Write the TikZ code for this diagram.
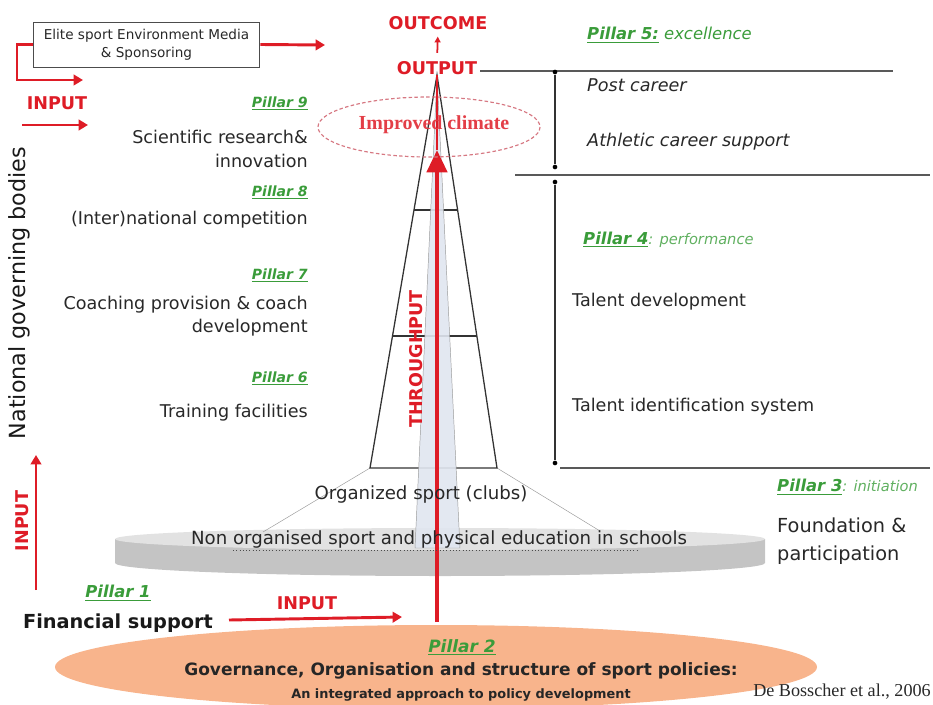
\documentclass[tikz,border=0pt]{standalone}
\usepackage{fontspec}
\setmainfont{DejaVu Sans}
\newfontfamily\serifface{Liberation Serif}
\usetikzlibrary{arrows.meta,calc}

\definecolor{inred}{RGB}{222,28,38}
\definecolor{pilgreen}{RGB}{58,156,58}
\definecolor{lightgreen}{RGB}{96,176,96}
\definecolor{govorange}{RGB}{248,180,140}
\definecolor{disctop}{RGB}{226,226,226}
\definecolor{discside}{RGB}{196,196,196}
\definecolor{colblue}{RGB}{224,230,240}
\definecolor{txtgrey}{RGB}{40,40,40}
\definecolor{climred}{RGB}{214,120,130}

\newcommand{\pillar}[1]{\underline{\textbf{\textit{Pillar #1}}}}
\newcommand{\fs}[2]{\fontsize{#1}{#2}\selectfont}

\begin{document}
\begin{tikzpicture}[x=0.03cm, y=-0.03cm,
  every node/.style={inner sep=0pt, text=txtgrey},
  lbl/.style={font=\fs{15}{20}, align=right, anchor=east},
  rlbl/.style={font=\fs{15}{18}, anchor=west},
  pil/.style={font=\fs{12}{14}, text=pilgreen},
  caps/.style={font=\fs{15}{17}\bfseries, text=inred},
  redarr/.style={draw=inred, line width=2.5pt, -{Triangle[length=8pt,width=9pt]}},
  divider/.style={draw=black!65, line width=1pt},
  dot/.style={circle, fill=black, minimum size=4pt}]
\useasboundingbox (0,0) rectangle (933,704);

\fill[govorange] (436,667) ellipse [x radius=381, y radius=42];
\fill[discside] (115,539) -- (115,563) arc[start angle=180, end angle=0, x radius=325, y radius=13] -- (765,539) -- cycle;
\fill[disctop] (440,539) ellipse [x radius=325, y radius=11];

\coordinate (apex) at (437,75);
\coordinate (bl) at (370,468);
\coordinate (br) at (497,468);
\coordinate (discl) at (263,532);
\coordinate (discr) at (600,531);
\draw[black!40] (bl) -- (discl);
\draw[black!40] (br) -- (discr);
\draw[black!80, line width=1.1pt] (apex) -- (bl) -- (br) -- cycle;
\draw[black!80, line width=1.1pt] ($(apex)!0.3435!(bl)$) -- ($(apex)!0.3435!(br)$);
\draw[black!80, line width=1.1pt] ($(apex)!0.664!(bl)$) -- ($(apex)!0.664!(br)$);
\filldraw[fill=colblue, draw=black!40, fill opacity=0.9] (apex) -- (415,548) -- (460,548) -- cycle;

\coordinate (thrbot) at (437,622);
\coordinate (thrtip) at (437,150);
\draw[inred, line width=4pt, -{Triangle[length=19pt,width=17pt]}] (thrbot) -- (thrtip);
\draw[inred, line width=1.5pt] (thrtip) -- (apex);
\node[caps, rotate=90] (thr) at (416,359) {THROUGHPUT};

\draw[climred, line width=1pt, dash pattern=on 3pt off 2pt] (429,127) ellipse [x radius=111, y radius=30];
\node[font=\serifface\fs{17}{19}\bfseries, text=inred!85] (climate) at (434,125) {Improved climate};

\node[caps] (outcome) at (438,23) {OUTCOME};
\node[caps] (output) at (437,68) {OUTPUT};
\draw[inred, line width=1.5pt, shorten <=0.25cm, shorten >=0.2cm, -{Triangle[length=5pt,width=5pt]}] (output.north) -- (outcome.south);

\node[draw=black!70, line width=0.8pt, minimum width=6.8cm, minimum height=1.35cm, align=center, font=\fs{11.6}{15.5}] (elite) at (146.5,44.5) {Elite sport Environment Media\\\& Sponsoring};
\coordinate (eliteout) at (325,45);
\coordinate (bracket) at (83,80);
\draw[redarr] (elite.east) -- (eliteout);
\draw[redarr] (elite.west) -| (17,80) -- (bracket);
\node[caps] (intop) at (57,103) {INPUT};
\coordinate (intopa) at (22,125);
\coordinate (intopb) at (88,125);
\draw[redarr] (intopa) -- (intopb);

\node[font=\fs{19}{21}, rotate=90, text=black!90] (ngb) at (19,293) {National governing bodies};
\coordinate (vin0) at (36,590);
\coordinate (vin1) at (36,455);
\draw[redarr] (vin0) -- (vin1);
\node[caps, rotate=90] (inleft) at (22,521) {INPUT};

\node[pil, anchor=east] (p9) at (308,103) {\pillar{9}};
\node[lbl] (sci) at (308,149) {Scientific research\&\\innovation};
\node[pil, anchor=east] (p8) at (308,192) {\pillar{8}};
\node[lbl] (intl) at (308,220) {(Inter)national competition};
\node[pil, anchor=east] (p7) at (308,275) {\pillar{7}};
\node[lbl] (coach) at (308,316) {Coaching provision \& coach\\development};
\node[pil, anchor=east] (p6) at (308,378) {\pillar{6}};
\node[lbl] (train) at (308,413) {Training facilities};

\coordinate (topl) at (480,71);
\coordinate (topr) at (893,71);
\coordinate (midl) at (515,175);
\coordinate (midr) at (930,175);
\coordinate (botl) at (560,468);
\coordinate (botr) at (930,468);
\draw[divider] (topl) -- (topr);
\draw[divider] (midl) -- (midr);
\draw[divider] (botl) -- (botr);
\node[dot] (d1) at (555,72) {};
\node[dot] (d2) at (555,167) {};
\node[dot] (d3) at (555,182) {};
\node[dot] (d4) at (555,463) {};
\draw[black!80, line width=1.1pt] (d1) -- (d2);
\draw[black!80, line width=1.1pt] (d3) -- (d4);

\node[pil, anchor=west, font=\fs{14}{16}] (p5) at (587,35) {\pillar{5:}\textit{ excellence}};
\node[rlbl, font=\fs{15}{18}\itshape] (post) at (587,85) {Post career};
\node[rlbl, font=\fs{15}{18}\itshape] (athl) at (587,142) {Athletic career support};
\node[pil, anchor=west, font=\fs{14}{16}] (p4) at (583,240) {\pillar{4}\textcolor{lightgreen}{\fs{12.5}{14}\textit{: performance}}};
\node[rlbl] (tdev) at (572,302) {Talent development};
\node[rlbl] (tid) at (572,407) {Talent identification system};
\node[pil, anchor=west, font=\fs{14}{16}] (p3) at (777,487) {\pillar{3}\textcolor{lightgreen}{\fs{12.5}{14}\textit{: initiation}}};
\node[rlbl, font=\fs{16.5}{24}, align=left] (found) at (777,541) {Foundation \&\\participation};

\node[font=\fs{15.5}{17}] (clubs) at (421,494) {Organized sport (clubs)};
\node[font=\fs{15.5}{17}] (school) at (439,539) {Non organised sport and physical education in schools};
\draw[black!70, dotted, line width=0.8pt] (233,550) -- (637,550);

\node[pil, font=\fs{14}{16}] (p1) at (118,593) {\pillar{1}};
\node[font=\fs{16.5}{18}\bfseries, text=black!90] (fin) at (118,623) {Financial support};
\node[caps] (inbot) at (307,603) {INPUT};
\coordinate (fina) at (229,620);
\coordinate (finb) at (402,617);
\draw[redarr] (fina) -- (finb);

\node[pil, font=\fs{14.5}{16}] (p2) at (462,647) {\pillar{2}};
\node[font=\fs{14.5}{16}\bfseries, text=black!85] (gov) at (461,671) {Governance, Organisation and structure of sport policies:};
\node[font=\fs{11}{12}\bfseries, text=black!85] (integr) at (461,695) {An integrated approach to policy development};
\node[font=\serifface\fs{15.5}{17}, anchor=east] (src) at (931,692) {De Bosscher et al., 2006};
\end{tikzpicture}
\end{document}
